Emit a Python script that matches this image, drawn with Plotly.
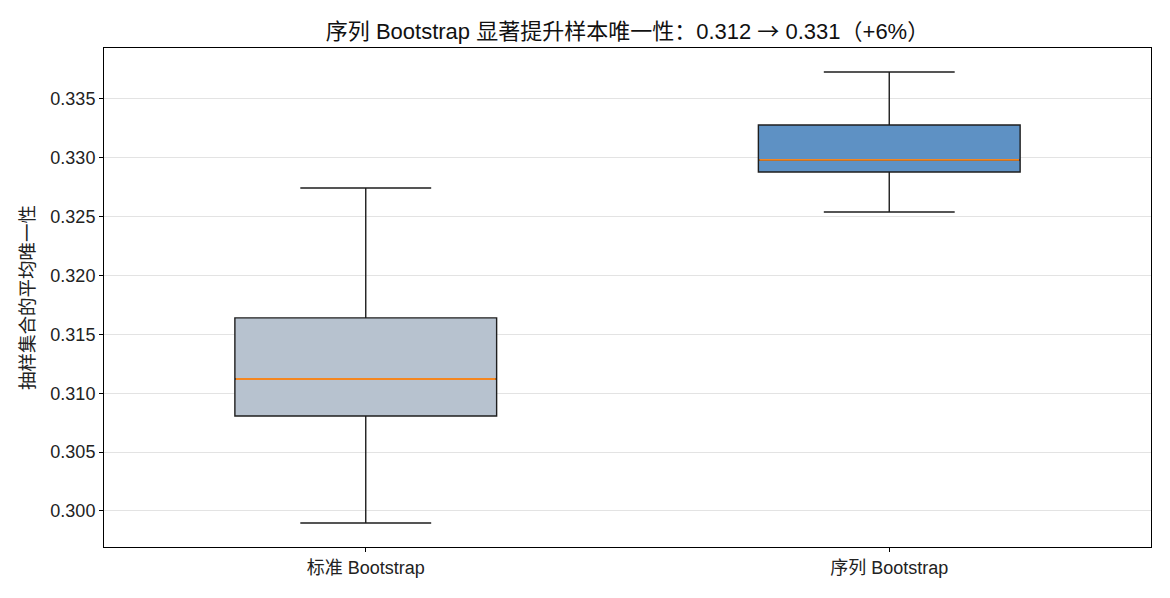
import plotly.graph_objects as go

categories = ["标准 Bootstrap", "序列 Bootstrap"]
q1 = [0.30807, 0.32880]
median = [0.31121, 0.32982]
q3 = [0.31640, 0.33279]
lower = [0.29898, 0.32540]
upper = [0.32744, 0.33729]
fills = ["#b7c2cf", "#5e91c4"]

FONT = "Liberation Sans, Noto Sans CJK SC, sans-serif"
fig = go.Figure()
positions = list(range(len(categories)))
for i, cat in enumerate(categories):
    fig.add_trace(go.Box(
        x=[positions[i]], q1=[q1[i]], median=[median[i]], q3=[q3[i]],
        lowerfence=[lower[i]], upperfence=[upper[i]],
        width=0.5, whiskerwidth=0.5, fillcolor=fills[i],
        line=dict(color="#1e1e1e", width=1.4), boxpoints=False,
        showlegend=False, hoverinfo="skip", name=cat))
    fig.add_trace(go.Scatter(
        x=[positions[i] - 0.248, positions[i] + 0.248], y=[median[i], median[i]],
        mode="lines", line=dict(color="#f5861f", width=1.8),
        showlegend=False, hoverinfo="skip"))

title_text = ("序列 Bootstrap 显著提升样本唯一性：0.312 "
              "<span style=\"font-family:'Noto Sans CJK SC'\">→</span> 0.331（+6%）")

fig.update_layout(
    width=1170, height=598,
    margin=dict(l=104, r=19, t=48, b=51),
    paper_bgcolor="white", plot_bgcolor="white",
    font=dict(family=FONT, size=18, color="#222"),
    title=dict(text=title_text,
               x=0.5, xanchor="center", xref="paper", y=1 - 31 / 598, yanchor="middle",
               font=dict(size=22, color="#111")),
)
fig.update_xaxes(range=[-0.5, 1.5], tickvals=positions, ticktext=categories,
                 showgrid=False, zeroline=False, showline=True, linecolor="black",
                 linewidth=1, mirror=True, ticks="outside", ticklen=4,
                 tickcolor="black", tickfont=dict(size=18, color="#222"))
fig.update_yaxes(range=[0.29694, 0.33933], tickvals=[0.300, 0.305, 0.310, 0.315, 0.320, 0.325, 0.330, 0.335],
                 tickformat=".3f", showgrid=True, gridcolor="#e3e3e3", gridwidth=1,
                 zeroline=False, showline=True, linecolor="black", linewidth=1, mirror=True,
                 ticks="outside", ticklen=4, tickcolor="black",
                 tickfont=dict(size=18, color="#222"),
                 title=dict(text="抽样集合的平均唯一性", font=dict(size=18.5, color="#222"), standoff=10))
fig.write_html("out.html")
